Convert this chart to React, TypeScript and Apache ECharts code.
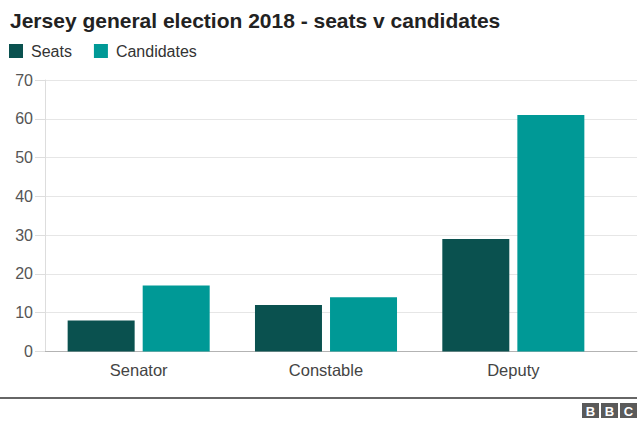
import React, { useEffect, useRef } from "react";
import * as echarts from "echarts";

const categories = ["Senator", "Constable", "Deputy"];
const seats = [8, 12, 29];
const candidates = [17, 14, 61];
const yTicks = { min: 0, max: 70, interval: 10 };

const FONT = "'Liberation Sans', Arial, Helvetica, sans-serif";

export default function App() {
  const ref = useRef<HTMLDivElement>(null);
  useEffect(() => {
    if (!ref.current) return;
    const chart = echarts.init(ref.current, null, { renderer: "svg" });
    const logoLetters = ["B", "B", "C"];
    chart.setOption({
      animation: false,
      backgroundColor: "#ffffff",
      textStyle: { fontFamily: FONT },
      title: {
        text: "Jersey general election 2018 - seats v candidates",
        left: 5,
        top: 5,
        textStyle: { fontSize: 21, fontWeight: "bold", color: "#222222", fontFamily: FONT },
      },
      legend: {
        left: 4,
        top: 38,
        icon: "rect",
        itemWidth: 14,
        itemHeight: 14,
        itemGap: 22,
        textStyle: { fontSize: 16, color: "#333333", fontFamily: FONT, padding: [0, 0, 0, 3] },
        data: ["Seats", "Candidates"],
      },
      grid: [
        { left: 45, right: 3, top: 80, bottom: 71.5, containLabel: false },
        { left: 45, right: 33, top: 80, bottom: 71.5, containLabel: false },
      ],
      xAxis: [
        {
          gridIndex: 0,
          type: "value",
          min: 0,
          max: 1,
          axisLabel: { show: false },
          axisTick: { show: false },
          splitLine: { show: false },
          axisLine: { show: true, lineStyle: { color: "#b3b3b3", width: 1 } },
        },
        {
          gridIndex: 1,
          type: "category",
          data: categories,
          axisLine: { show: false },
          axisTick: { show: false },
          axisLabel: { fontSize: 16.5, color: "#444444", margin: 10, fontFamily: FONT },
        },
      ],
      yAxis: [
        {
          gridIndex: 0,
          type: "value",
          min: yTicks.min,
          max: yTicks.max,
          interval: yTicks.interval,
          axisLine: { show: true, lineStyle: { color: "#dddddd" } },
          axisTick: { show: true, length: 10, lineStyle: { color: "#dddddd" } },
          axisLabel: { fontSize: 16, color: "#555555", margin: 12, fontFamily: FONT },
          splitLine: { show: true, lineStyle: { color: "#e6e6e6" } },
        },
        {
          gridIndex: 1,
          type: "value",
          min: yTicks.min,
          max: yTicks.max,
          interval: yTicks.interval,
          show: false,
        },
      ],
      series: [
        {
          name: "Seats",
          type: "bar",
          xAxisIndex: 1,
          yAxisIndex: 1,
          data: seats,
          barWidth: 67,
          barGap: "12%",
          itemStyle: { color: "#0a514f" },
        },
        {
          name: "Candidates",
          type: "bar",
          xAxisIndex: 1,
          yAxisIndex: 1,
          data: candidates,
          barWidth: 67,
          barGap: "12%",
          itemStyle: { color: "#009996" },
        },
      ],
      graphic: [
        {
          type: "line",
          shape: { x1: 0, y1: 398, x2: 637, y2: 398 },
          style: { stroke: "#666666", lineWidth: 2 },
        },
        ...logoLetters.map((l, i) => ({
          type: "group",
          x: 582 + i * 19,
          y: 403,
          children: [
            { type: "rect", shape: { x: 0, y: 0, width: 17, height: 15 }, style: { fill: "#5a5a5a" } },
            {
              type: "text",
              x: 8.5,
              y: 8,
              style: {
                text: l,
                fill: "#ffffff",
                fontSize: 13,
                fontWeight: "bold",
                fontFamily: FONT,
                align: "center",
                verticalAlign: "middle",
              },
            },
          ],
        })),
      ],
    });
    return () => chart.dispose();
  }, []);
  return (
    <div
      ref={ref}
      style={{ position: "absolute", left: 0, top: 0, width: 640, height: 423 }}
    />
  );
}
